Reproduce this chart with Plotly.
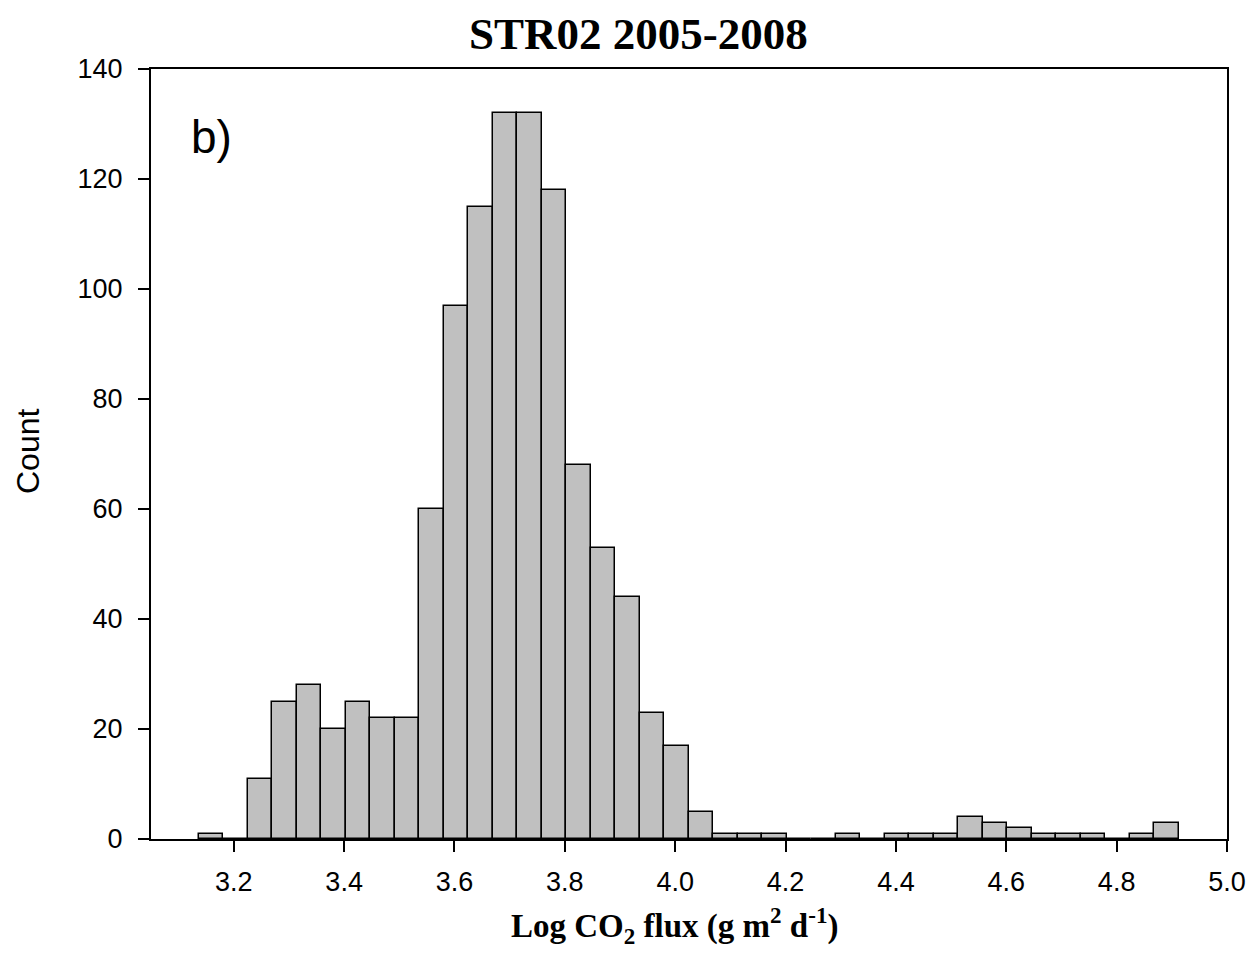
import plotly.graph_objects as go

# Histogram data
bin_start = 3.1366
bin_width = 0.0444
counts = [1, 0, 11, 25, 28, 20, 25, 22, 22, 60,
          97, 115, 132, 132, 118, 68, 53, 44, 23, 17,
          5, 1, 1, 1, 0, 0, 1, 0, 1, 1,
          1, 4, 3, 2, 1, 1, 1, 0, 1, 3]
x_ticks = [3.2, 3.4, 3.6, 3.8, 4.0, 4.2, 4.4, 4.6, 4.8, 5.0]
y_ticks = [0, 20, 40, 60, 80, 100, 120, 140]

centers = [bin_start + bin_width * (i + 0.5) for i in range(len(counts))]

fig = go.Figure(go.Bar(
    x=centers, y=counts, width=bin_width,
    marker=dict(color="#C0C0C0", line=dict(color="black", width=1.5)),
))

W, H = 1250, 954
L, R, T, B = 151, 1227, 69, 839

def px(x):
    return (x - L) / (R - L)

def py(y):
    return (B - y) / (B - T)

tickfont = dict(family="Liberation Sans, Arial", size=27, color="black")

fig.update_layout(
    width=W, height=H,
    margin=dict(l=L, r=W - R, t=T, b=H - B),
    plot_bgcolor="white", paper_bgcolor="white",
    showlegend=False,
    bargap=0,
    xaxis=dict(range=[3.05, 5.0], tickvals=x_ticks, tickformat=".1f",
               showline=True, mirror=True, linecolor="black", linewidth=2,
               ticks="outside", ticklen=11, tickwidth=2, tickcolor="black",
               showgrid=False, zeroline=False, automargin=False,
               ticklabelstandoff=7, tickfont=tickfont),
    yaxis=dict(range=[0, 140], tickvals=y_ticks,
               showline=True, mirror=True, linecolor="black", linewidth=2,
               ticks="outside", ticklen=11, tickwidth=2, tickcolor="black",
               showgrid=False, zeroline=False, automargin=False,
               ticklabelstandoff=10, tickfont=tickfont),
    annotations=[
        dict(text="<b>STR02 2005-2008</b>", x=px(638), y=py(34), xref="paper", yref="paper",
             showarrow=False, xanchor="center", yanchor="middle",
             font=dict(family="Liberation Serif, Times New Roman", size=45, color="black")),
        dict(text="<b>Log CO<sub>2</sub> flux (g m<sup>2</sup> d<sup>-1</sup>)</b>",
             x=px(674), y=py(925), xref="paper", yref="paper",
             showarrow=False, xanchor="center", yanchor="middle",
             font=dict(family="Liberation Serif, Times New Roman", size=33, color="black")),
        dict(text="Count", x=px(28), y=py(451), xref="paper", yref="paper",
             showarrow=False, xanchor="center", yanchor="middle", textangle=-90,
             font=dict(family="Liberation Sans, Arial", size=32, color="black")),
        dict(text="b)", x=px(189), y=py(137), xref="paper", yref="paper",
             showarrow=False, xanchor="left", yanchor="middle",
             font=dict(family="Liberation Sans, Arial", size=46, color="black")),
    ],
)

fig.write_html("out.html")
